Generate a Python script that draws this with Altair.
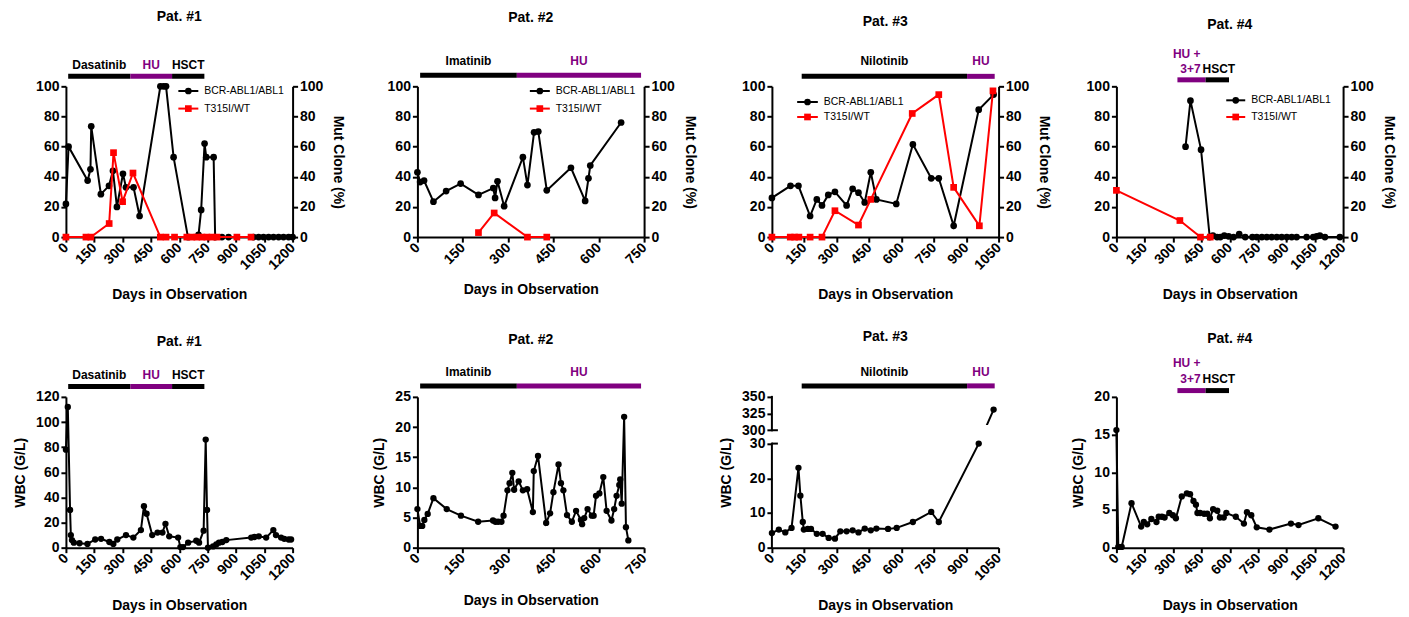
import altair as alt
import pandas as pd

FONT = "Liberation Sans"
PURPLE = "#800080"
RED = "#ff0000"
BLACK = "#000000"
W, H = 227, 151

# ------------------------------------------------------------------ data
# Top row: BCR-ABL1/ABL1 (%) and T315I/WT mutant clone (%)
p1_bcr_day = [0, 14, 115, 130, 134, 185, 228, 249, 270, 302, 318, 358, 390, 500, 517, 530, 570, 646, 702, 716, 734, 743, 782, 790,
              826, 861, 993, 1020, 1046, 1073, 1099, 1126, 1152, 1179, 1200]
p1_bcr_val = [22, 60, 37.5, 45, 73.5, 28.5, 34, 44, 20, 42, 33, 33, 14, 100, 100, 100, 53, 0, 1.5, 18, 62, 53, 53, 0,
              0, 0, 0, 0, 0, 0, 0, 0, 0, 0, 0]
p1_mut_day = [0, 106, 132, 229, 252, 300, 355, 500, 530, 575, 640, 667, 693, 720, 746, 773, 800, 905, 980]
p1_mut_val = [0, 0, 0, 9, 56, 23.5, 42.5, 0, 0, 0, 0, 0, 0, 0, 0, 0, 0, 0, 0]

p2_bcr_day = [0, 9, 22, 53, 95, 143, 202, 251, 257, 265, 287, 349, 364, 386, 400, 428, 508, 555, 566, 572, 674]
p2_bcr_val = [43, 36.5, 37.5, 23.5, 30.5, 35.5, 28, 32.5, 26, 37, 20.5, 53, 34.5, 69.5, 70, 31, 46, 24, 39, 47.5, 76]
p2_mut_day = [202, 254, 364, 428]
p2_mut_val = [3, 16, 0, 0]

p3_bcr_day = [0, 86, 123, 177, 208, 232, 261, 292, 346, 374, 401, 430, 458, 484, 576, 653, 738, 773, 842, 958, 1027]
p3_bcr_val = [26, 34, 34, 14, 25, 21, 28, 30, 21, 32, 29.5, 23, 43, 25, 22, 61.5, 39, 39, 7.5, 84.5, 94.5]
p3_mut_day = [0, 85, 105, 125, 177, 232, 292, 401, 458, 650, 773, 842, 961, 1024]
p3_mut_val = [0, 0, 0, 0, 0, 0, 17.5, 8, 25, 82, 94.5, 33, 7.5, 97]

p4_bcr_day = [366, 392, 448, 494, 511, 533, 550, 571, 594, 620, 650, 682, 720, 743, 770, 796, 822, 849, 875, 902, 928, 954,
              1007, 1042, 1060, 1077, 1104, 1183]
p4_bcr_val = [60, 90.5, 58, 0, 1, 0, 0, 1, 0.5, 0, 2, 0, 0, 0, 0, 0, 0, 0, 0, 0, 0, 0, 0, 0, 0.5, 1, 0, 0]
p4_mut_day = [0, 336, 445, 497]
p4_mut_val = [31, 11, 0, 0]

# Bottom row: WBC (G/L)
w1_day = [0, 10, 22, 26, 32, 42, 72, 114, 155, 186, 230, 251, 272, 318, 357, 397, 413, 427, 457, 485, 511, 527, 547, 594,
          606, 620, 647, 690, 705, 729, 740, 747, 752, 779, 796, 810, 828, 849, 981, 998, 1021, 1060, 1098, 1112, 1139,
          1156, 1179, 1192]
w1_val = [78, 112, 30, 10, 6, 4, 3.5, 3, 6.5, 7, 4.5, 3, 6.5, 10, 8, 14, 33, 27, 10, 12, 12, 19, 9, 8,
          0.5, 0.5, 4, 5.5, 4, 13.5, 86, 30, 0, 1, 2.5, 4, 4.5, 6, 8, 8.5, 9, 8, 14, 10, 8,
          7, 6.5, 6.5]

w2_day = [0, 9, 16, 23, 34, 53, 97, 144, 201, 250, 258, 267, 278, 285, 298, 305, 314, 320, 335, 349, 363, 382, 385, 399,
          426, 439, 450, 467, 475, 483, 495, 511, 525, 541, 545, 552, 563, 577, 583, 591, 602, 615, 626, 642, 651, 659,
          668, 671, 676, 684, 690, 698]
w2_val = [6.4, 3.6, 3.6, 4.6, 5.6, 8.2, 6.4, 5.3, 4.3, 4.5, 4.3, 4.3, 4.3, 5.3, 9.5, 10.7, 12.4, 9.6, 11, 9.5, 9.7, 5.9,
          12.7, 15.2, 4.1, 5.7, 9.2, 13.8, 10.7, 9.5, 5.4, 4.3, 6.1, 4.6, 3.9, 4.9, 6.4, 5.3, 5.3, 8.6, 9.0, 11.7, 6.1,
          4.5, 6.4, 8.6, 10.4, 11.3, 7.3, 21.7, 3.4, 1.2]

w3_day = [0, 32, 62, 91, 123, 132, 143, 148, 166, 181, 208, 235, 263, 292, 317, 346, 374, 401, 430, 458, 484, 538, 578,
          653, 738, 773, 958, 1027]
w3_val = [4.2, 5.2, 4.4, 5.7, 23, 15, 7.4, 5.2, 5.4, 5.4, 4, 4, 2.8, 2.6, 4.7, 4.7, 5, 4.4, 5.5, 5, 5.5, 5.4, 5.7,
          7.4, 10.3, 7.4, 30, 331]

w4_day = [0, 10, 28, 80, 131, 145, 163, 185, 212, 224, 241, 255, 280, 299, 315, 346, 373, 390, 408, 421, 429, 443, 464,
          481, 495, 512, 534, 548, 568, 582, 632, 675, 691, 714, 743, 810, 924, 964, 1069, 1160]
w4_val = [15.6, 0.1, 0.1, 5.9, 2.8, 3.4, 3.1, 3.8, 3.4, 4.1, 4.1, 4.0, 4.6, 4.3, 3.9, 6.8, 7.2, 7.1, 6.2, 5.7, 4.6, 4.6,
          4.5, 4.5, 3.9, 5.1, 4.9, 4.0, 4.0, 4.6, 4.1, 3.2, 4.7, 4.3, 2.7, 2.4, 3.2, 3.0, 3.9, 2.8]

# Treatments (days)
p1_treat = ["Dasatinib", "HU", "HSCT"]
p1_start = [12, 341, 562]
p1_end = [341, 562, 733]
p2_treat = ["Imatinib", "HU"]
p2_start = [9, 329]
p2_end = [329, 740]
p3_treat = ["Nilotinib", "HU"]
p3_start = [138, 904]
p3_end = [904, 1032]
p4_treat = ["HU +\n3+7", "HSCT"]
p4_start = [323, 472]
p4_end = [472, 596]

x_max = [1200, 750, 1050, 1200]
legend_labels = ["BCR-ABL1/ABL1", "T315I/WT"]

# ------------------------------------------------------------------ helpers

def xenc(field, xmax):
    return alt.X(f"{field}:Q",
                 scale=alt.Scale(domain=[0, xmax], nice=False, zero=False),
                 axis=alt.Axis(values=list(range(0, xmax + 1, 150)), title="Days in Observation", format="d",
                               labelAngle=-45, labelAlign="right", labelBaseline="middle",
                               titlePadding=16, labelOverlap=False, labelFlush=False, labelPadding=3))


def one():
    return alt.Chart(pd.DataFrame({"k": [0]}))


def tcolor(name):
    return PURPLE if name.startswith("HU") else BLACK


TKW = dict(font=FONT, fontSize=12, fontWeight="bold", baseline="middle")
LINE_H = 15.5


def treatment_layers(names, starts, ends, xmax, bar_y, label_y, adjacent=False):
    df = pd.DataFrame({"name": names, "start": starts, "end": ends})
    df["mid"] = (df["start"] + df["end"]) / 2
    df["col"] = [tcolor(n) for n in names]
    bars = alt.Chart(df).mark_rule(strokeWidth=5, strokeCap="butt").encode(
        x=xenc("start", xmax), x2=alt.X2("end:Q"), y=alt.value(bar_y),
        color=alt.Color("col:N", scale=None))
    layers = [bars]
    if not adjacent:
        layers.append(alt.Chart(df).mark_text(align="center", **TKW).encode(
            x=xenc("mid", xmax), y=alt.value(label_y), text="name:N",
            color=alt.Color("col:N", scale=None)))
    else:
        # first treatment label: right-aligned at its end, possibly on several lines (bottom line at label_y)
        lines = names[0].split("\n")
        for j, line in enumerate(lines):
            ly = label_y - (len(lines) - 1 - j) * LINE_H
            layers.append(alt.Chart(df.iloc[[0]]).mark_text(align="right", dx=-5, **TKW).encode(
                x=xenc("end", xmax), y=alt.value(ly), text=alt.value(line),
                color=alt.Color("col:N", scale=None)))
        layers.append(alt.Chart(df.iloc[1:]).mark_text(align="left", dx=-3, **TKW).encode(
            x=xenc("start", xmax), y=alt.value(label_y), text="name:N",
            color=alt.Color("col:N", scale=None)))
    return layers


def title_layer(text, ty):
    return one().mark_text(font=FONT, fontSize=14, fontWeight="bold", align="center", baseline="middle",
                           color=BLACK).encode(x=alt.value(W / 2), y=alt.value(ty), text=alt.value(text))


def legend_layers(lx0, lx1, ly0, ly1, tx):
    out = []
    for label, col, shape, ly in [(legend_labels[0], BLACK, "circle", ly0), (legend_labels[1], RED, "square", ly1)]:
        out.append(one().mark_rule(color=col, strokeWidth=2).encode(
            x=alt.value(lx0), x2=alt.value(lx1), y=alt.value(ly)))
        out.append(one().mark_point(color=col, filled=True, shape=shape, size=45, opacity=1).encode(
            x=alt.value((lx0 + lx1) / 2), y=alt.value(ly)))
        out.append(one().mark_text(font=FONT, fontSize=10.5, align="left", baseline="middle", color=BLACK).encode(
            x=alt.value(tx), y=alt.value(ly), text=alt.value(label)))
    return out


def series(days, vals):
    return pd.DataFrame({"day": days, "val": vals, "ord": range(len(days))})


def top_panel(i, bd, bv, md, mv, names, starts, ends, cfg):
    xmax = x_max[i]
    yvals = [0, 20, 40, 60, 80, 100]
    ysc = alt.Scale(domain=[0, 100], nice=False)
    yl = alt.Y("val:Q", scale=ysc, axis=alt.Axis(values=yvals, title=None, orient="left", labelOverlap=False))
    yr = alt.Y("val:Q", scale=ysc, axis=alt.Axis(values=yvals, title="Mut Clone (%)", orient="right",
                                                 titlePadding=8, labelOverlap=False))
    yn = alt.Y("val:Q", scale=ysc, axis=None)
    db, dm = series(bd, bv), series(md, mv)
    layers = [
        alt.Chart(db).mark_line(color=BLACK, strokeWidth=2).encode(x=xenc("day", xmax), y=yl, order="ord:Q"),
        alt.Chart(db).mark_point(color=BLACK, filled=True, size=45, opacity=1).encode(x=xenc("day", xmax), y=yn),
        alt.Chart(dm).mark_line(color=RED, strokeWidth=2).encode(x=xenc("day", xmax), y=yr, order="ord:Q"),
        alt.Chart(dm).mark_point(color=RED, filled=True, shape="square", size=45, opacity=1).encode(
            x=xenc("day", xmax), y=yn),
    ]
    layers += treatment_layers(names, starts, ends, xmax, cfg["bar"], cfg["lab"], cfg.get("adj", False))
    layers += legend_layers(*cfg["leg"])
    layers.append(title_layer(f"Pat. #{i + 1}", cfg["title"]))
    return alt.layer(*layers).resolve_scale(y="independent").properties(width=W, height=H)


def bottom_panel(i, d, v, names, starts, ends, cfg, ymax, ystep, broken=False):
    xmax = x_max[i]
    df = series(d, v)
    layers = []
    if not broken:
        ax = alt.Axis(values=list(range(0, ymax + 1, ystep)), title="WBC (G/L)", titlePadding=8, labelOverlap=False)
        ysc = alt.Scale(domain=[0, ymax], nice=False)
        y = alt.Y("val:Q", scale=ysc, axis=ax)
        layers.append(alt.Chart(df).mark_line(color=BLACK, strokeWidth=2).encode(
            x=xenc("day", xmax), y=y, order="ord:Q"))
        layers.append(alt.Chart(df).mark_point(color=BLACK, filled=True, size=40, opacity=1).encode(
            x=xenc("day", xmax), y=y))
    else:
        # broken axis: 0-30 and 300-350
        g0, k = 33.85, 0.1923
        top = g0 + 50 * k
        ticks = [0, 10, 20, 30, g0, g0 + 25 * k, top]
        ax = alt.Axis(values=ticks, title="WBC (G/L)", titlePadding=8, domain=False, labelOverlap=False,
                      labelExpr="datum.value <= 31 ? datum.label : (datum.value < 36 ? '300' : "
                                "(datum.value < 41 ? '325' : '350'))")
        ysc = alt.Scale(domain=[0, top], nice=False)
        expr = f"datum.val <= 30 ? datum.val : {g0} + (datum.val - 300) * {k}"
        base = alt.Chart(df).transform_calculate(yd=expr)
        y = alt.Y("yd:Q", scale=ysc, axis=ax)
        layers.append(base.mark_line(color=BLACK, strokeWidth=2).encode(x=xenc("day", xmax), y=y, order="ord:Q"))
        layers.append(one().mark_rect(color="white").encode(
            x=alt.value(3), x2=alt.value(W), y=alt.YDatum(30.5, scale=ysc, axis=ax), y2=alt.Y2Datum(g0 + 1.5)))
        layers.append(base.mark_point(color=BLACK, filled=True, size=40, opacity=1).encode(
            x=xenc("day", xmax), y=y))
        for a, b in [(0, 30), (g0, top)]:
            layers.append(one().mark_rule(color=BLACK, strokeWidth=2, strokeCap="square").encode(
                x=alt.value(0), y=alt.YDatum(a, scale=ysc, axis=ax), y2=alt.Y2Datum(b)))
        for a in [30, g0]:
            layers.append(one().mark_rule(color=BLACK, strokeWidth=2).encode(
                x=alt.value(0), x2=alt.value(6), y=alt.YDatum(a, scale=ysc, axis=ax)))
    layers += treatment_layers(names, starts, ends, xmax, cfg["bar"], cfg["lab"], cfg.get("adj", False))
    layers.append(title_layer(f"Pat. #{i + 1}", cfg["title"]))
    return alt.layer(*layers).properties(width=W, height=H)


top_cfg = [
    dict(bar=-10, lab=-21, title=-69, leg=(112.6, 132.6, 4.7, 22.3, 138.5)),
    dict(bar=-11, lab=-25, title=-68, leg=(112.6, 132.6, 4.7, 22.3, 138.5)),
    dict(bar=-10, lab=-25, title=-64, leg=(25.3, 46, 15.7, 30.7, 52)),
    dict(bar=-6.5, lab=-17, title=-61, adj=True, leg=(110, 129, 14, 30.7, 135)),
]
bot_cfg = [
    dict(bar=-10.3, lab=-22, title=-55),
    dict(bar=-11, lab=-25, title=-57),
    dict(bar=-11, lab=-25, title=-60),
    dict(bar=-6.3, lab=-18, title=-58, adj=True),
]

top = [
    top_panel(0, p1_bcr_day, p1_bcr_val, p1_mut_day, p1_mut_val, p1_treat, p1_start, p1_end, top_cfg[0]),
    top_panel(1, p2_bcr_day, p2_bcr_val, p2_mut_day, p2_mut_val, p2_treat, p2_start, p2_end, top_cfg[1]),
    top_panel(2, p3_bcr_day, p3_bcr_val, p3_mut_day, p3_mut_val, p3_treat, p3_start, p3_end, top_cfg[2]),
    top_panel(3, p4_bcr_day, p4_bcr_val, p4_mut_day, p4_mut_val, p4_treat, p4_start, p4_end, top_cfg[3]),
]
bottom = [
    bottom_panel(0, w1_day, w1_val, p1_treat, p1_start, p1_end, bot_cfg[0], 120, 20),
    bottom_panel(1, w2_day, w2_val, p2_treat, p2_start, p2_end, bot_cfg[1], 25, 5),
    bottom_panel(2, w3_day, w3_val, p3_treat, p3_start, p3_end, bot_cfg[2], 30, 10, broken=True),
    bottom_panel(3, w4_day, w4_val, p4_treat, p4_start, p4_end, bot_cfg[3], 20, 5),
]


def row(panels):
    # flush layout: nested concats count as zero-size, so spacings are distances between plot origins
    left = alt.hconcat(panels[0], panels[1], spacing=125, bounds="flush")
    right = alt.hconcat(panels[2], panels[3], spacing=118, bounds="flush")
    return alt.hconcat(left, right, spacing=707, bounds="flush")


chart = alt.vconcat(
    row(top), row(bottom), spacing=311, bounds="flush",
    padding={"top": 2, "left": 5, "right": 5, "bottom": 5},
).configure_view(stroke=None).configure_axis(
    grid=False, domainColor=BLACK, domainWidth=2, tickColor=BLACK, tickWidth=2, tickSize=5,
    labelFont=FONT, labelFontSize=14, labelFontWeight="bold", labelColor=BLACK,
    titleFont=FONT, titleFontSize=14, titleFontWeight="bold", titleColor=BLACK,
)

chart.save("out.html", embed_options={"renderer": "svg", "actions": False})
